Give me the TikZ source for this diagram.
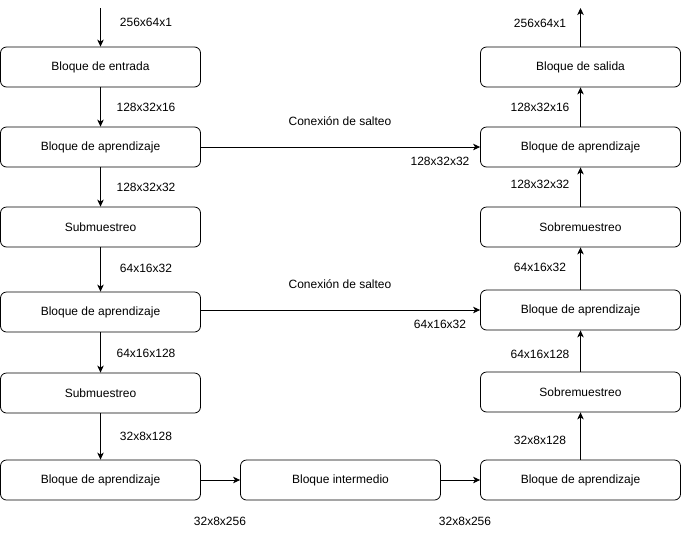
\documentclass[tikz,border=0pt]{standalone}
\usepackage{fontspec}
\setmainfont{Liberation Sans}
\usetikzlibrary{arrows.meta}
\begin{document}
\begin{tikzpicture}[x=1pt,y=-1pt,
  blk/.style={draw,rounded corners=6pt,minimum width=200pt,minimum height=40pt,inner sep=0pt,font=\fontsize{12}{14}\selectfont,line width=0.8pt},
  lbl/.style={inner sep=0pt,font=\fontsize{12}{14}\selectfont},
  arr/.style={-{Stealth[length=7pt,width=6.5pt,inset=2pt]},line width=0.8pt}]
\useasboundingbox (0,0) rectangle (682,539);
% left column
\node[blk] (in) at (100.5,67) {Bloque de entrada};
\node[blk] (l1) at (100.5,147) {Bloque de aprendizaje};
\node[blk] (d1) at (100.5,227) {Submuestreo};
\node[blk] (l2) at (100.5,312) {Bloque de aprendizaje};
\node[blk] (d2) at (100.5,393) {Submuestreo};
\node[blk] (l3) at (100.5,480) {Bloque de aprendizaje};
\node[blk] (mid) at (340.5,480) {Bloque intermedio};
% right column
\node[blk] (out) at (580.5,67) {Bloque de salida};
\node[blk] (r1) at (580.5,147) {Bloque de aprendizaje};
\node[blk] (u1) at (580.5,227) {Sobremuestreo};
\node[blk] (r2) at (580.5,310) {Bloque de aprendizaje};
\node[blk] (u2) at (580.5,392) {Sobremuestreo};
\node[blk] (r3) at (580.5,480) {Bloque de aprendizaje};
\coordinate (tin) at (100.5,8);
\coordinate (tout) at (580.5,8);
% connectors
\draw[arr] (tin) -- (in.north);
\draw[arr] (in) -- (l1);
\draw[arr] (l1) -- (d1);
\draw[arr] (d1) -- (l2);
\draw[arr] (l2) -- (d2);
\draw[arr] (d2) -- (l3);
\draw[arr] (l3) -- (mid);
\draw[arr] (mid) -- (r3);
\draw[arr] (r3) -- (u2);
\draw[arr] (u2) -- (r2);
\draw[arr] (r2) -- (u1);
\draw[arr] (u1) -- (r1);
\draw[arr] (r1) -- (out);
\draw[arr] (out.north) -- (tout);
\draw[arr] (l1) -- (r1);
\draw[arr] (l2.east |- r2.west) -- (r2.west);
% labels
\node[lbl] (a1) at (146,22) {256x64x1};
\node[lbl] (a2) at (146,107) {128x32x16};
\node[lbl] (a3) at (146,187) {128x32x32};
\node[lbl] (a4) at (146,268) {64x16x32};
\node[lbl] (a5) at (146,353) {64x16x128};
\node[lbl] (a6) at (146,436) {32x8x128};
\node[lbl] (a7) at (220,521) {32x8x256};
\node[lbl] (a8) at (465,521) {32x8x256};
\node[lbl] (b1) at (540,23) {256x64x1};
\node[lbl] (b2) at (540,107) {128x32x16};
\node[lbl] (b3) at (540,184) {128x32x32};
\node[lbl] (b4) at (540,267) {64x16x32};
\node[lbl] (b5) at (540,354) {64x16x128};
\node[lbl] (b6) at (540,440) {32x8x128};
\node[lbl] (s1) at (340,121) {Conexión de salteo};
\node[lbl] (s2) at (340,284) {Conexión de salteo};
\node[lbl] (c1) at (440,161) {128x32x32};
\node[lbl] (c2) at (440,324) {64x16x32};
\end{tikzpicture}
\end{document}
